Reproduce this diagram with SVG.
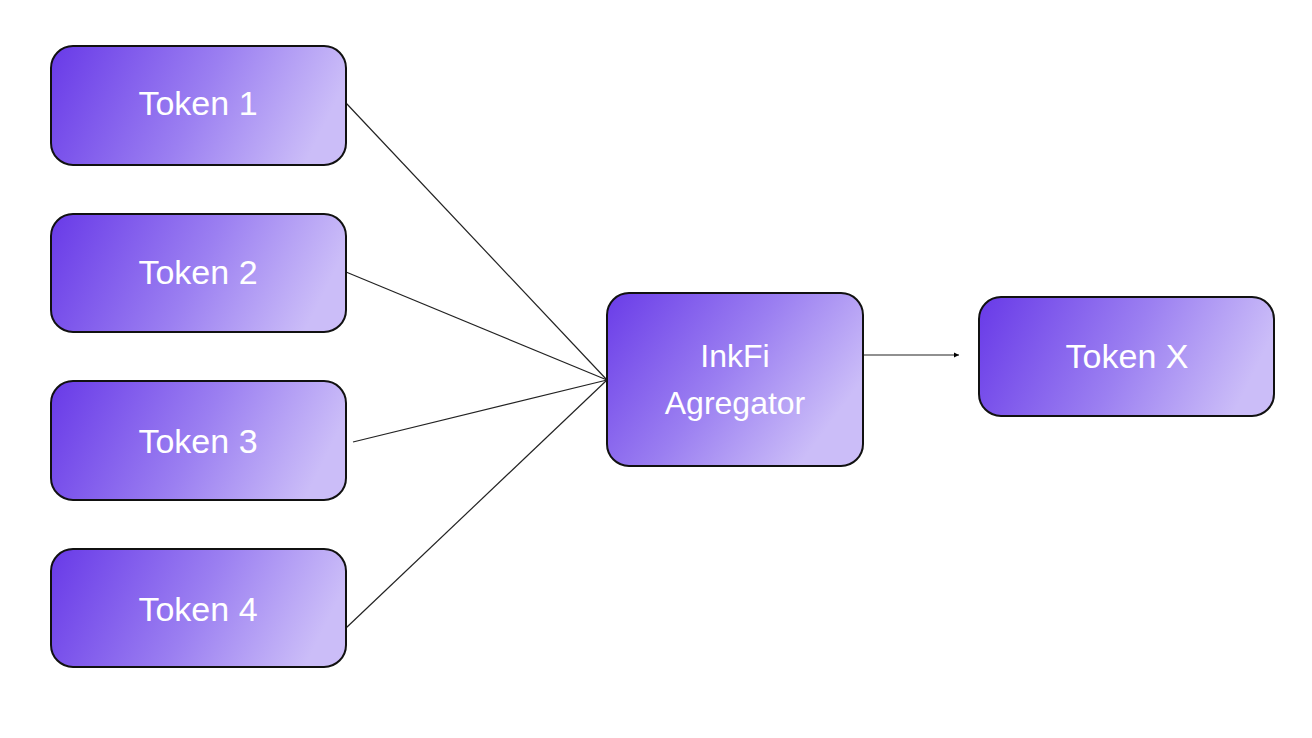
<svg xmlns="http://www.w3.org/2000/svg" width="1312" height="738" viewBox="0 0 1312 738">
<defs>
<linearGradient id="g" x1="0" y1="0" x2="1" y2="0.5">
<stop offset="0" stop-color="#6a3ce8"/>
<stop offset="0.55" stop-color="#9b7ff1"/>
<stop offset="1" stop-color="#cbbdf8"/>
</linearGradient>
<linearGradient id="gw" x1="0" y1="0.1" x2="1" y2="0.3">
<stop offset="0" stop-color="#6a3ce8"/>
<stop offset="0.55" stop-color="#9b7ff1"/>
<stop offset="1" stop-color="#cbbdf8"/>
</linearGradient>
<marker id="ah" markerWidth="6" markerHeight="6" refX="5" refY="3" orient="auto" markerUnits="userSpaceOnUse">
<path d="M0,0.5 L5,3 L0,5.5 Z" fill="#000"/>
</marker>
<style>
.box{fill:url(#gw);stroke:#111;stroke-width:2}
.agg{fill:url(#g);stroke:#111;stroke-width:2}
.lbl{font-family:"Liberation Sans",Arial,sans-serif;font-size:34px;fill:#fff;text-anchor:middle}
.lbl2{font-family:"Liberation Sans",Arial,sans-serif;font-size:32px;fill:#fff;text-anchor:middle}
.con{stroke:#222;stroke-width:1.2;fill:none}
</style>
</defs>
<rect width="1312" height="738" fill="#fff"/>
<g id="connectors">
<line class="con" x1="346" y1="103" x2="607" y2="380"/>
<line class="con" x1="346" y1="272" x2="607" y2="380"/>
<line class="con" x1="353" y1="442" x2="607" y2="380"/>
<line class="con" x1="346" y1="628" x2="607" y2="380"/>
<line class="con" x1="863" y1="355" x2="959" y2="355" marker-end="url(#ah)"/>
</g>
<g id="token1"><rect class="box" x="51" y="46" width="295" height="119" rx="22"/><text class="lbl" x="198" y="115">Token 1</text></g>
<g id="token2"><rect class="box" x="51" y="214" width="295" height="118" rx="22"/><text class="lbl" x="198" y="284">Token 2</text></g>
<g id="token3"><rect class="box" x="51" y="381" width="295" height="119" rx="22"/><text class="lbl" x="198" y="453">Token 3</text></g>
<g id="token4"><rect class="box" x="51" y="549" width="295" height="118" rx="22"/><text class="lbl" x="198" y="621">Token 4</text></g>
<g id="aggregator"><rect class="agg" x="607" y="293" width="256" height="173" rx="22"/><text class="lbl2" x="735" y="367">InkFi</text><text class="lbl2" x="735" y="414">Agregator</text></g>
<g id="tokenX"><rect class="box" x="979" y="297" width="295" height="119" rx="22"/><text class="lbl" x="1127" y="368">Token X</text></g>
</svg>
